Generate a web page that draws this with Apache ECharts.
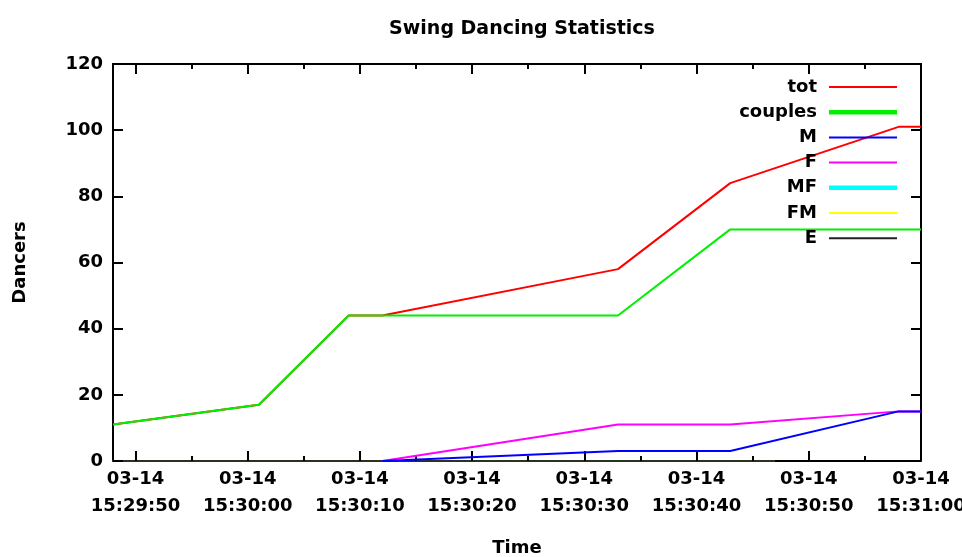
<!DOCTYPE html>
<html>
<head>
<meta charset="utf-8">
<script src="https://cdn.jsdelivr.net/npm/echarts@6/dist/echarts.min.js"></script>
<style>
html,body{margin:0;padding:0;background:#fff;}
#chart{width:962px;height:557px;}
</style>
</head>
<body>
<div id="chart"></div>
<script>
// ---- data ----
const dateLabel = '03-14';
const sampleTimes = ['15:29:48', '15:30:01', '15:30:09', '15:30:12', '15:30:33', '15:30:43', '15:30:58', '15:31:00'];
const totValues     = [11, 17, 44, 44, 58, 84, 101, 101];
const couplesValues = [11, 17, 44, 44, 44, 70, 70, 70];
const mValues       = [null, null, null, 0, 3, 3, 15, 15];
const fValues       = [null, null, null, 0, 11, 11, 15, 15];
const mfValues      = [];
const fmValues      = [];
const eTimes  = ['15:30:47', '15:31:00'];
const eValues = [0, 0];
const majorTickTimes = ['15:29:50', '15:30:00', '15:30:10', '15:30:20', '15:30:30', '15:30:40', '15:30:50', '15:31:00'];
const minorTickTimes = ['15:29:55', '15:30:05', '15:30:15', '15:30:25', '15:30:35', '15:30:45', '15:30:55'];
const yTicks = [0, 20, 40, 60, 80, 100, 120];

// ---- helpers ----
function toMs(t) { return new Date('2014-03-14T' + t).getTime(); }
function pad(n) { return (n < 10 ? '0' : '') + n; }
function pairs(times, vals) {
  const out = [];
  for (let i = 0; i < times.length; i++) {
    if (vals[i] !== null && vals[i] !== undefined) out.push([toMs(times[i]), vals[i]]);
  }
  return out;
}
const xMin = toMs(sampleTimes[0]);
const xMax = toMs(sampleTimes[sampleTimes.length - 1]);
const majorMs = majorTickTimes.map(toMs);
const minorMs = minorTickTimes.map(toMs);

const FONT = 'DejaVu Sans';
const txt = { fontFamily: FONT, fontWeight: 'bold', fontSize: 18, color: '#000' };

function xAxisDef(pos, ticks, len, showLabel) {
  return {
    type: 'value', min: xMin, max: xMax, position: pos,
    axisLine: { show: true, onZero: false, lineStyle: { color: pos === 'bottom' ? '#2a3320' : '#000', width: 2 } },
    axisTick: { show: true, inside: true, length: len, customValues: ticks, lineStyle: { color: '#000', width: 2 } },
    axisLabel: showLabel ? Object.assign({
      show: true, customValues: ticks, margin: 5, lineHeight: 27,
      formatter: function (v) {
        const d = new Date(v);
        return dateLabel + '\n' + pad(d.getHours()) + ':' + pad(d.getMinutes()) + ':' + pad(d.getSeconds());
      }
    }, txt) : { show: false },
    splitLine: { show: false }
  };
}

const xAxes = [
  Object.assign(xAxisDef('bottom', majorMs, 10, true), {
    name: 'Time', nameLocation: 'middle', nameGap: 78, nameTextStyle: txt
  }),
  xAxisDef('bottom', minorMs, 5, false),
  xAxisDef('top', majorMs, 10, false),
  xAxisDef('top', minorMs, 5, false)
];

function yAxisDef(pos, showLabel) {
  return {
    type: 'value', min: 0, max: 120, interval: 20, position: pos,
    axisLine: { show: true, onZero: false, lineStyle: { color: '#000', width: 2 } },
    axisTick: { show: true, inside: true, length: 10, lineStyle: { color: '#000', width: 2 } },
    axisLabel: showLabel ? Object.assign({ show: true, margin: 10,
      formatter: function (v) { return yTicks.indexOf(v) >= 0 ? String(v) : ''; } }, txt) : { show: false },
    splitLine: { show: false }
  };
}
const yAxes = [
  Object.assign(yAxisDef('left', true), {
    name: 'Dancers', nameLocation: 'middle', nameRotate: 90, nameGap: 84, nameTextStyle: txt
  }),
  yAxisDef('right', false)
];

function lineSeries(name, color, width, data, z) {
  return {
    name: name, type: 'line', data: data, xAxisIndex: 0, yAxisIndex: 0,
    symbol: 'none', showSymbol: false, connectNulls: false, z: z,
    color: color, itemStyle: { color: color },
    lineStyle: { color: color, width: width }
  };
}

const series = [
  lineSeries('tot', '#ff0000', 2, pairs(sampleTimes, totValues), 2),
  lineSeries('couples', '#00f000', 2, pairs(sampleTimes, couplesValues), 3),
  lineSeries('M', '#0000ff', 2, pairs(sampleTimes, mValues), 5),
  lineSeries('F', '#ff00ff', 2, pairs(sampleTimes, fValues), 4),
  lineSeries('MF', '#00ffff', 4, mfValues, 4),
  lineSeries('FM', '#ffff00', 2, fmValues, 4),
  lineSeries('E', '#000000', 2, pairs(eTimes, eValues), 6)
];

const thin = 'path://M0,0H68V2H0Z';
const thick = 'path://M0,0H68V4.5H0Z';

const option = {
  animation: false,
  backgroundColor: '#fff',
  title: {
    text: 'Swing Dancing Statistics', left: 517, top: 15, textAlign: 'center',
    textStyle: { fontFamily: FONT, fontWeight: 'bold', fontSize: 19, color: '#000' }
  },
  grid: { left: 113, right: 41, top: 64, bottom: 96, containLabel: false, outerBoundsMode: 'none' },
  legend: {
    orient: 'vertical', align: 'right', right: 60, top: 72,
    itemWidth: 68, itemHeight: 20, itemGap: 5.2, symbolKeepAspect: true,
    textStyle: Object.assign({ padding: [0, 7, 0, 0], lineHeight: 20 }, txt),
    data: [
      { name: 'tot', icon: thin },
      { name: 'couples', icon: thick },
      { name: 'M', icon: thin },
      { name: 'F', icon: thin },
      { name: 'MF', icon: thick },
      { name: 'FM', icon: thin },
      { name: 'E', icon: thin, itemStyle: { color: '#222' } }
    ]
  },
  xAxis: xAxes,
  yAxis: yAxes,
  series: series
};

const chart = echarts.init(document.getElementById('chart'), null, { renderer: 'canvas' });
chart.setOption(option);
</script>
</body>
</html>
